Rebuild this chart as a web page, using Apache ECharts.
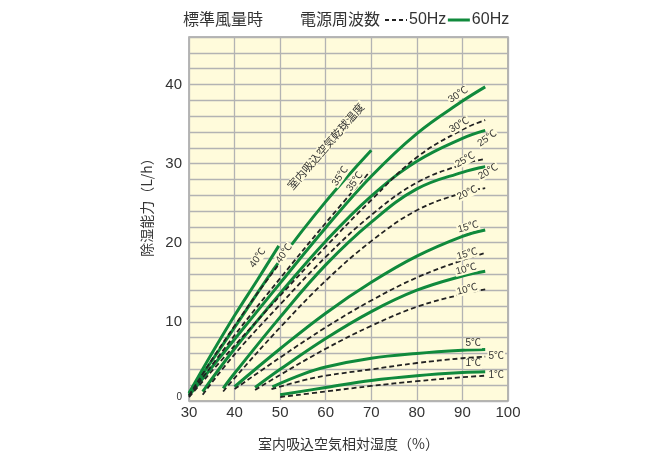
<!DOCTYPE html>
<html><head><meta charset="utf-8">
<script src="https://cdn.jsdelivr.net/npm/echarts@6/dist/echarts.min.js"></script>
<style>html,body{margin:0;padding:0;background:#fff}#c{width:669px;height:472px}</style>
</head><body><div id="c"></div>
<script>
// ---- data ----
const xTicks = [30, 40, 50, 60, 70, 80, 90, 100];
const yTicks = [0, 10, 20, 30, 40];
const temps = ['40', '35', '30', '25', '20', '15', '10', '5', '1'];
// 60Hz curves: [relative humidity %, capacity L/h]
const hz60_40 = [[30,1.0],[35,6.0],[40,10.8],[45,15.3],[49.7,19.6]];
const hz60_35 = [[30,0.9],[40,9.3],[50,17.8],[60,25.2],[70,31.7]];
const hz60_30 = [[30,0.7],[40,7.8],[50,14.9],[60,21.9],[70,28.4],[80,33.8],[90,37.9],[95,39.7]];
const hz60_25 = [[33,1.2],[40,6.6],[50,13.6],[60,20.2],[70,25.9],[80,30.3],[90,33.2],[95,34.2]];
const hz60_20 = [[37.5,1.6],[40,3.5],[50,10.6],[60,17.2],[70,22.6],[80,26.8],[90,28.9],[95,29.6]];
const hz60_15 = [[40,1.8],[50,6.6],[60,11.1],[70,15.0],[80,18.3],[90,20.8],[95,21.6]];
const hz60_10 = [[44.5,1.7],[50,4.0],[60,7.9],[70,11.3],[80,14.0],[90,15.8],[95,16.4]];
const hz60_5  = [[48.3,1.8],[55,3.4],[60,4.3],[70,5.4],[80,6.0],[90,6.4],[95,6.5]];
const hz60_1  = [[50,0.8],[60,1.7],[70,2.6],[80,3.2],[90,3.6],[95,3.7]];
// 50Hz curves
const hz50_40 = [[30,0.7],[35,5.2],[40,9.5],[45,13.6],[50,17.5]];
const hz50_35 = [[30,0.6],[40,8.3],[50,15.5],[60,22.5],[69.7,29.0]];
const hz50_30 = [[30,0.5],[40,7.0],[50,13.3],[60,19.5],[70,25.4],[80,30.8],[90,34.3],[95,35.5]];
const hz50_25 = [[33,0.8],[40,5.9],[50,12.2],[60,18.2],[70,23.5],[80,27.6],[90,29.9],[95,30.6]];
const hz50_20 = [[37.5,1.2],[40,2.9],[50,9.3],[60,15.2],[70,20.2],[80,24.1],[90,26.3],[95,26.9]];
const hz50_15 = [[40,1.5],[50,5.5],[60,9.3],[70,12.7],[80,15.6],[90,17.8],[95,18.7]];
const hz50_10 = [[44.5,1.4],[50,3.3],[60,6.6],[70,9.5],[80,11.9],[90,13.5],[95,14.1]];
const hz50_5  = [[48.1,1.5],[55,2.6],[60,3.2],[70,4.0],[80,4.8],[90,5.4],[95,5.6]];
const hz50_1  = [[50,0.5],[60,1.2],[70,1.9],[80,2.5],[90,3.0],[95,3.2]];

const curves60 = [hz60_40, hz60_35, hz60_30, hz60_25, hz60_20, hz60_15, hz60_10, hz60_5, hz60_1];
const curves50 = [hz50_40, hz50_35, hz50_30, hz50_25, hz50_20, hz50_15, hz50_10, hz50_5, hz50_1];

// ---- label placement (pixel offsets from curve end, rotation in degrees) ----
const lab60 = [[-21,12,55],[-31,26,55],[-27,8,33],[2,8,35],[3,5,30],[-17,-3,15],[-19,-2,15],[-12,-6,0],[-12,-8,0]];
const lab50 = [[4,-9,55],[-15,10,55],[-26,5,30],[-20,1,30],[-18,5,25],[-18,1,15],[-18,0,15],[11,0,0],[11,0,0]];

const GREEN = '#108a3c';
const FONT = '"Liberation Sans", "Noto Sans CJK JP", sans-serif';
const JFONT = '"Noto Sans CJK JP", "Liberation Sans", sans-serif';
const CREAM = '#fffbdb';

const series = [];
curves50.forEach((c) => series.push({
  name: '50Hz', type: 'line', data: c, smooth: 0.4, symbol: 'none', showSymbol: false,
  lineStyle: { color: '#222', width: 1.8, type: [5, 3] }, itemStyle: { color: '#222' }, z: 3
}));
curves60.forEach((c) => series.push({
  name: '60Hz', type: 'line', data: c, smooth: 0.4, symbol: 'none', showSymbol: false,
  lineStyle: { color: GREEN, width: 3 }, itemStyle: { color: GREEN }, z: 2
}));

const chart = echarts.init(document.getElementById('c'), null, { renderer: 'canvas' });
chart.setOption({
  backgroundColor: '#fff',
  animation: false,
  textStyle: { fontFamily: FONT },
  title: [
    { text: '標準風量時', left: 183, top: 11, padding: 0, textStyle: { fontSize: 16, fontWeight: 'normal', color: '#333', fontFamily: JFONT } },
    { text: '電源周波数', left: 300, top: 11, padding: 0, textStyle: { fontSize: 16, fontWeight: 'normal', color: '#333', fontFamily: JFONT } }
  ],
  legend: {
    data: [
      { name: '50Hz', lineStyle: { type: [4, 3], width: 2, color: '#222' } },
      { name: '60Hz', lineStyle: { width: 3, color: GREEN } }
    ],
    left: 384, top: 12, padding: 0, itemWidth: 22, itemHeight: 14, itemGap: 0,
    itemStyle: { opacity: 0 },
    textStyle: { fontSize: 16, color: '#333', fontFamily: FONT, padding: [0, 0, 0, -3] }
  },
  grid: { left: 189, right: 161, top: 37, bottom: 71, show: true, backgroundColor: CREAM, borderColor: '#a0a0a0', borderWidth: 1.5 },
  xAxis: {
    type: 'value', min: 30, max: 100, interval: 10,
    name: '室内吸込空気相対湿度（%）', nameLocation: 'middle', nameGap: 36,
    nameTextStyle: { fontSize: 14, color: '#333', fontFamily: JFONT },
    axisLine: { show: false }, axisTick: { show: false },
    axisLabel: { fontSize: 15, color: '#333', margin: 4, formatter: (v) => xTicks.includes(v) ? String(v) : '' },
    splitLine: { lineStyle: { color: '#b3b3b3', width: 1.3 } }
  },
  yAxis: {
    type: 'value', min: 0, max: 46, interval: 2,
    name: '除湿能力（L/h）', nameLocation: 'middle', nameGap: 35,
    nameTextStyle: { fontSize: 14, color: '#333', fontFamily: JFONT, padding: [0, 0, 0, 30] },
    axisLine: { show: false }, axisTick: { show: false },
    axisLabel: {
      fontSize: 15, color: '#333', margin: 7,
      formatter: (v) => yTicks.includes(v) ? (v === 0 ? '{s|0}' : String(v)) : '',
      rich: { s: { fontSize: 10, color: '#333', padding: [0, 0, 8, 0] } }
    },
    splitLine: { lineStyle: { color: '#b3b3b3', width: 1.3 } }
  },
  series: series
});

// curve labels, anchored at each curve's last data point through the chart's scales
const graphics = [];
function addLabels(curves, labs) {
  curves.forEach((c, i) => {
    const p = chart.convertToPixel({ gridIndex: 0 }, c[c.length - 1]);
    const [dx, dy, rot] = labs[i];
    graphics.push({
      type: 'text', x: p[0] + dx, y: p[1] + dy, rotation: rot * Math.PI / 180, z: 10,
      style: { text: temps[i] + '℃', fontSize: 10, fill: '#333', fontFamily: FONT, align: 'center', verticalAlign: 'middle',
               backgroundColor: CREAM, padding: [0, 1] }
    });
  });
}
addLabels(curves60, lab60);
addLabels(curves50, lab50);
const ap = chart.convertToPixel({ gridIndex: 0 }, [60.0, 32.2]);
graphics.push({
  type: 'text', x: ap[0], y: ap[1], rotation: 49 * Math.PI / 180, z: 10,
  style: { text: '室内吸込空気乾球温度', fontSize: 11, fill: '#333', fontFamily: JFONT, align: 'center', verticalAlign: 'middle',
           backgroundColor: CREAM, padding: [0, 2] }
});
chart.setOption({ graphic: graphics });
</script></body></html>
